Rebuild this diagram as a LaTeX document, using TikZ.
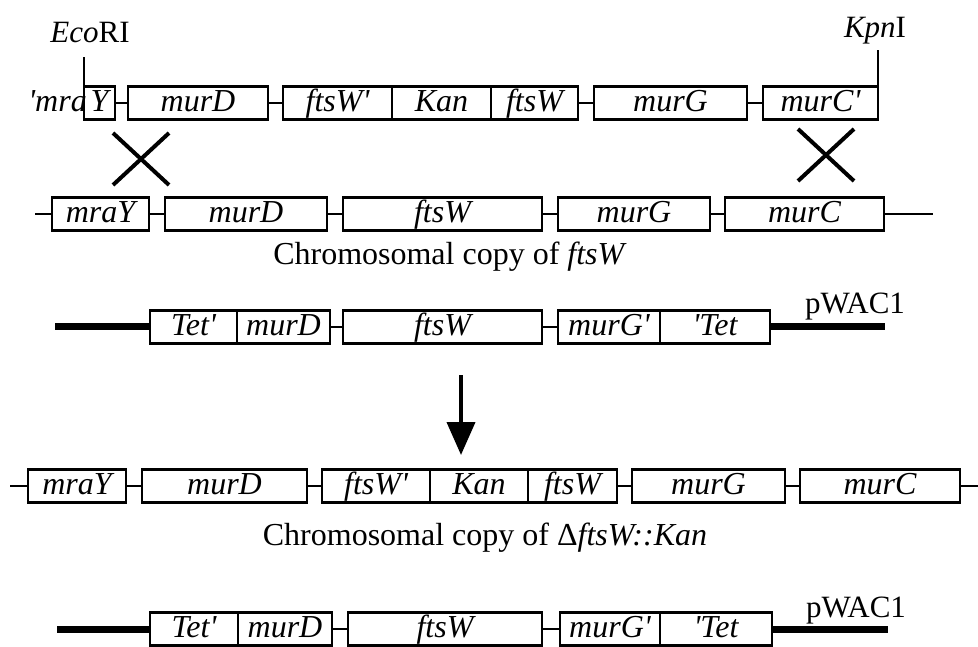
\documentclass[tikz,border=0pt]{standalone}
\usepackage{fontspec}
\setmainfont{Liberation Serif}
\usepackage{tikz}
\usetikzlibrary{positioning,arrows.meta,shapes.misc}

\begin{document}
\begin{tikzpicture}[
  x=1pt, y=-1pt,
  font=\fontsize{31}{36}\selectfont,
  gene/.style={draw, line width=2.8pt, inner sep=0pt, outer sep=0pt, minimum height=33pt, anchor=west,
               text height=23pt, text depth=6pt, font=\fontsize{32}{36}\selectfont\itshape},
  link/.style={line width=2.2pt},
  plasmid/.style={line width=7pt},
  xover/.style={draw, cross out, line width=4pt, inner sep=0pt, minimum width=52pt, minimum height=48pt},
  lbl/.style={inner sep=0pt, anchor=base},
]
\useasboundingbox (0,0) rectangle (978,647);

% donor fragment
\node[gene, minimum width=31pt] (Y1) at (84,103) {Y};
\node[lbl, anchor=base east, font=\fontsize{32}{36}\selectfont\itshape] (mra1) at ([xshift=3pt]Y1.base west) {\textquotesingle mra};
\node[gene, minimum width=140pt] (murD1) at (128,103) {murD};
\node[gene, minimum width=109pt] (ftsWa1) at (283,103) {ftsW\textquotesingle};
\node[gene, minimum width=99pt, right=0pt of ftsWa1] (Kan1) {Kan};
\node[gene, minimum width=87pt, right=0pt of Kan1] (ftsWb1) {ftsW};
\node[gene, minimum width=153pt] (murG1) at (594,103) {murG};
\node[gene, minimum width=115pt] (murC1) at (763,103) {murC\textquotesingle};
\draw[link] (Y1.east) -- (murD1.west);
\draw[link] (murD1.east) -- (ftsWa1.west);
\draw[link] (ftsWb1.east) -- (murG1.west);
\draw[link] (murG1.east) -- (murC1.west);

\node[lbl] (eco) at (90,43) {\textit{Eco}RI};
\coordinate (ecocut) at (84,57);
\draw[link] (Y1.north west) -- (ecocut);
\node[lbl] (kpn) at (875,38) {\textit{Kpn}I};
\coordinate (kpncut) at (878,50);
\draw[link] (murC1.north east) -- (kpncut);

\node[xover] (xl) at (141,159) {};
\node[xover] (xr) at (826,155) {};

% chromosome
\coordinate (r2l) at (35,214);
\coordinate (r2r) at (933,214);
\node[gene, minimum width=97pt] (mraY2) at (52,214) {mraY};
\node[gene, minimum width=162pt] (murD2) at (165,214) {murD};
\node[gene, minimum width=199pt] (ftsW2) at (343,214) {ftsW};
\node[gene, minimum width=152pt] (murG2) at (558,214) {murG};
\node[gene, minimum width=159pt] (murC2) at (725,214) {murC};
\draw[link] (r2l) -- (mraY2.west);
\draw[link] (mraY2.east) -- (murD2.west);
\draw[link] (murD2.east) -- (ftsW2.west);
\draw[link] (ftsW2.east) -- (murG2.west);
\draw[link] (murG2.east) -- (murC2.west);
\draw[link] (murC2.east) -- (r2r);
\node[lbl, font=\fontsize{32}{36}\selectfont] (cap2) at (450,265) {Chromosomal copy of \textit{ftsW}};

% pWAC1
\coordinate (p3l) at (55,327);
\coordinate (p3r) at (885,327);
\node[gene, minimum width=87pt] (Tet3) at (150,327) {Tet\textquotesingle};
\node[gene, minimum width=93pt, right=0pt of Tet3] (murD3) {murD};
\node[gene, minimum width=199pt] (ftsW3) at (343,327) {ftsW};
\node[gene, minimum width=102pt] (murGp3) at (558,327) {murG\textquotesingle};
\node[gene, minimum width=110pt, right=0pt of murGp3] (Tetb3) {\textquotesingle Tet};
\draw[plasmid] (p3l) -- (Tet3.west);
\draw[link] (murD3.east) -- (ftsW3.west);
\draw[link] (ftsW3.east) -- (murGp3.west);
\draw[plasmid] (Tetb3.east) -- (p3r);
\node[lbl] (pw3) at (855,313) {pWAC1};

\coordinate (arrtop) at (461,375);
\coordinate (arrbot) at (461,455);
\draw[-{Triangle[length=33pt,width=28pt]}, line width=4pt] (arrtop) -- (arrbot);

% mutant chromosome
\coordinate (r4l) at (10,486);
\coordinate (r4r) at (978,486);
\node[gene, minimum width=98pt] (mraY4) at (28,486) {mraY};
\node[gene, minimum width=165pt] (murD4) at (142,486) {murD};
\node[gene, minimum width=108pt] (ftsWa4) at (322,486) {ftsW\textquotesingle};
\node[gene, minimum width=98pt, right=0pt of ftsWa4] (Kan4) {Kan};
\node[gene, minimum width=89pt, right=0pt of Kan4] (ftsWb4) {ftsW};
\node[gene, minimum width=153pt] (murG4) at (632,486) {murG};
\node[gene, minimum width=160pt] (murC4) at (800,486) {murC};
\draw[link] (r4l) -- (mraY4.west);
\draw[link] (mraY4.east) -- (murD4.west);
\draw[link] (murD4.east) -- (ftsWa4.west);
\draw[link] (ftsWb4.east) -- (murG4.west);
\draw[link] (murG4.east) -- (murC4.west);
\draw[link] (murC4.east) -- (r4r);
\node[lbl, font=\fontsize{32}{36}\selectfont] (cap4) at (485,545) {Chromosomal copy of Δ\textit{ftsW::Kan}};

% excised pWAC1
\coordinate (p5l) at (57,629);
\coordinate (p5r) at (888,629);
\node[gene, minimum width=88pt] (Tet5) at (150,629) {Tet\textquotesingle};
\node[gene, minimum width=94pt, right=0pt of Tet5] (murD5) {murD};
\node[gene, minimum width=194pt] (ftsW5) at (348,629) {ftsW};
\node[gene, minimum width=100pt] (murGp5) at (560,629) {murG\textquotesingle};
\node[gene, minimum width=112pt, right=0pt of murGp5] (Tetb5) {\textquotesingle Tet};
\draw[plasmid] (p5l) -- (Tet5.west);
\draw[link] (murD5.east) -- (ftsW5.west);
\draw[link] (ftsW5.east) -- (murGp5.west);
\draw[plasmid] (Tetb5.east) -- (p5r);
\node[lbl] (pw5) at (856,617) {pWAC1};
\end{tikzpicture}
\end{document}
